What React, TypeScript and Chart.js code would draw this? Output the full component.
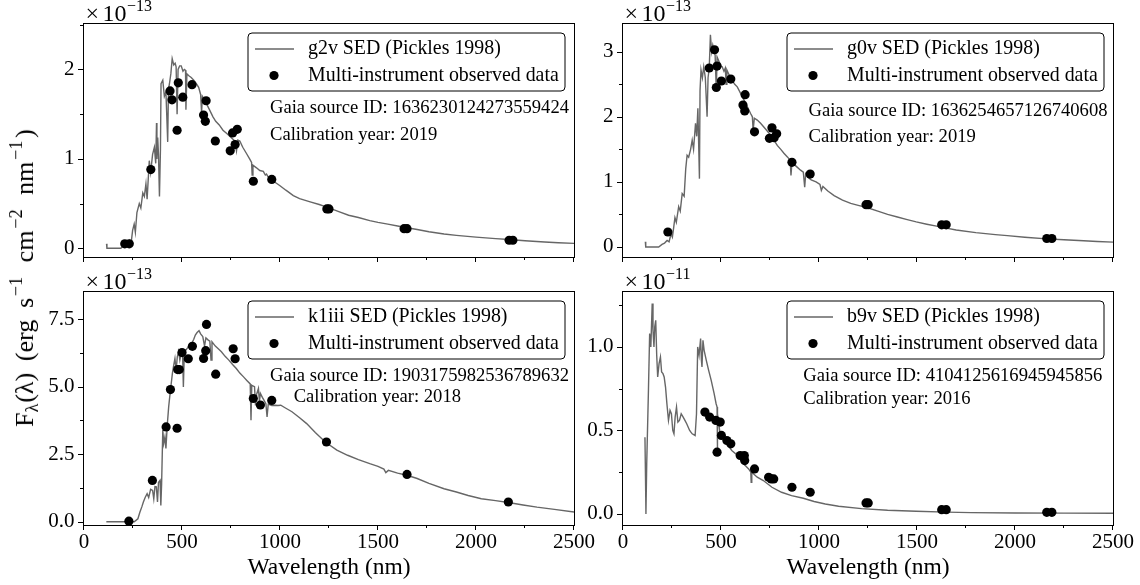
import React, { useEffect, useRef } from "react";
import { Chart, registerables } from "chart.js";

Chart.register(...registerables);

const SERIF = "'Liberation Serif', 'Times New Roman', serif";

// ---------- shared axis data ----------
const xTicks = [0, 500, 1000, 1500, 2000, 2500];
const xMinorTicks = [250, 750, 1250, 1750, 2250];
const xLabel = "Wavelength (nm)";
const legendObsLabel = "Multi-instrument observed data";

// ---------- g2v (top-left), flux in units of 1e-13 ----------
const g2vSed: [number, number][] = [
  [115, 0.05], [117, 0.0], [150, 0.0], [188, 0.0], [197, 0.02], [215, 0.03], [231, 0.09], [240, 0.05],
  [248, 0.2], [256, 0.27], [262, 0.18], [270, 0.4], [282, 0.5], [290, 0.45], [300, 0.62], [308, 0.58],
  [316, 0.72], [322, 0.55], [333, 0.98], [340, 0.85], [350, 1.05], [359, 1.13], [366, 0.95], [370, 1.4],
  [372, 1.0], [376, 1.24], [380, 1.05], [385, 0.58], [390, 1.1], [393, 1.84], [402, 1.88], [410, 1.7],
  [418, 1.75], [427, 1.19], [431, 1.78], [436, 1.84], [443, 1.95], [450, 2.12], [458, 2.05], [465, 2.07],
  [470, 2.03], [475, 1.5], [480, 2.0], [488, 2.04], [496, 2.04], [505, 1.98], [512, 2.0], [518, 1.99],
  [520, 1.55], [525, 1.95], [535, 1.93], [547, 1.91], [560, 1.88], [573, 1.84], [585, 1.8], [595, 1.72],
  [600, 1.52], [604, 1.7], [615, 1.66], [624, 1.62], [640, 1.55], [658, 1.47], [672, 1.42], [690, 1.38],
  [709, 1.32], [730, 1.28], [745, 1.25], [760, 1.22], [770, 1.2], [778, 1.09], [785, 1.21], [795, 1.2],
  [810, 1.13], [829, 1.06], [845, 1.0], [855, 0.96], [858, 0.82], [862, 0.93], [880, 0.9], [897, 0.87],
  [915, 0.86], [925, 0.82], [931, 0.83], [945, 0.78], [960, 0.76], [980, 0.73], [1000, 0.7], [1030, 0.65],
  [1068, 0.59], [1100, 0.555], [1154, 0.52], [1200, 0.49], [1239, 0.46], [1300, 0.41], [1350, 0.37],
  [1400, 0.345], [1458, 0.31], [1500, 0.29], [1550, 0.27], [1600, 0.25], [1633, 0.235], [1700, 0.21],
  [1760, 0.185], [1837, 0.16], [1900, 0.145], [2000, 0.125], [2100, 0.108], [2169, 0.098], [2250, 0.085],
  [2350, 0.07], [2420, 0.062], [2500, 0.055],
];
const g2vObs: [number, number][] = [
  [208, 0.05], [231, 0.05], [341, 0.88], [439, 1.76], [449, 1.66], [475, 1.32], [481, 1.85], [504, 1.69],
  [551, 1.83], [610, 1.49], [619, 1.42], [623, 1.65], [670, 1.2], [746, 1.09], [758, 1.29], [771, 1.16],
  [782, 1.33], [864, 0.75], [958, 0.77], [1239, 0.44], [1250, 0.44], [1633, 0.22], [1648, 0.22],
  [2169, 0.09], [2188, 0.09],
];
const g2vYTicks = [0, 1, 2];
const g2vYTickLabels = ["0", "1", "2"];
const g2vYMinor = [0.5, 1.5, 2.5];

// ---------- g0v (top-right), flux in units of 1e-13 ----------
const g0vSed: [number, number][] = [
  [114, 0.08], [116, 0.0], [150, 0.0], [182, 0.0], [199, 0.04], [212, 0.06], [225, 0.1], [235, 0.08],
  [245, 0.2], [252, 0.15], [259, 0.31], [265, 0.45], [272, 0.38], [284, 0.62], [292, 0.55], [302, 0.82],
  [312, 0.78], [320, 1.2], [327, 1.41], [335, 1.38], [345, 1.5], [353, 1.64], [360, 1.5], [370, 1.9],
  [376, 1.7], [382, 2.13], [390, 1.05], [393, 2.4], [398, 2.72], [405, 2.6], [412, 2.77], [420, 2.6],
  [429, 2.0], [434, 2.6], [440, 2.75], [446, 3.26], [452, 3.0], [458, 3.1], [463, 3.03], [470, 2.95],
  [476, 2.4], [480, 2.92], [490, 2.85], [498, 2.78], [506, 2.77], [515, 2.7], [522, 2.75], [526, 2.5],
  [530, 2.72], [545, 2.62], [557, 2.56], [570, 2.5], [583, 2.46], [600, 2.36], [617, 2.26], [635, 2.15],
  [651, 2.05], [660, 2.0], [664, 1.79], [670, 1.98], [685, 1.95], [702, 1.9], [725, 1.82], [753, 1.72],
  [770, 1.64], [787, 1.56], [805, 1.5], [821, 1.44], [840, 1.38], [853, 1.33], [857, 1.1], [862, 1.3],
  [880, 1.25], [906, 1.18], [920, 1.15], [927, 0.92], [932, 1.12], [940, 1.08], [960, 1.03], [985, 1.0],
  [1005, 0.96], [1012, 0.87], [1020, 0.93], [1045, 0.86], [1077, 0.79], [1120, 0.72], [1162, 0.67],
  [1200, 0.64], [1240, 0.61], [1300, 0.55], [1350, 0.5], [1400, 0.46], [1450, 0.42], [1496, 0.385],
  [1550, 0.35], [1600, 0.32], [1650, 0.29], [1700, 0.26], [1800, 0.22], [1900, 0.19], [1961, 0.175],
  [2050, 0.15], [2162, 0.125], [2250, 0.11], [2350, 0.095], [2420, 0.085], [2500, 0.075],
];
const g0vObs: [number, number][] = [
  [229, 0.23], [440, 2.75], [467, 3.03], [476, 2.45], [480, 2.78], [502, 2.55], [550, 2.58], [612, 2.18],
  [621, 2.09], [623, 2.34], [671, 1.77], [747, 1.67], [760, 1.83], [771, 1.68], [784, 1.74], [862, 1.3],
  [955, 1.12], [1240, 0.65], [1251, 0.65], [1626, 0.34], [1649, 0.34], [2162, 0.13], [2188, 0.13],
];
const g0vYTicks = [0, 1, 2, 3];
const g0vYTickLabels = ["0", "1", "2", "3"];
const g0vYMinor = [0.5, 1.5, 2.5];

// ---------- k1iii (bottom-left), flux in units of 1e-13 ----------
const k1iiiSed: [number, number][] = [
  [114, 0.0], [200, 0.0], [256, 0.0], [265, 0.05], [275, 0.11], [285, 0.35], [295, 0.55], [303, 0.73],
  [312, 0.9], [322, 1.04], [330, 0.9], [340, 1.2], [350, 1.16], [356, 0.85], [362, 1.3], [369, 1.29],
  [375, 0.73], [380, 1.45], [388, 1.53], [392, 0.6], [396, 1.4], [402, 3.39], [407, 2.9], [413, 3.14],
  [418, 2.71], [425, 3.6], [432, 4.25], [440, 4.8], [451, 5.49], [458, 5.8], [464, 6.04], [470, 5.6],
  [476, 6.1], [483, 6.3], [489, 5.98], [495, 6.2], [503, 6.23], [507, 4.99], [512, 6.3], [520, 6.35],
  [530, 6.45], [540, 6.54], [550, 6.6], [560, 6.75], [568, 6.91], [577, 7.0], [587, 7.07], [595, 6.95],
  [606, 6.85], [615, 6.5], [622, 6.8], [634, 6.72], [642, 6.68], [648, 5.98], [653, 6.66], [670, 6.5],
  [685, 6.4], [701, 6.29], [720, 6.12], [739, 5.98], [758, 5.82], [777, 5.67], [795, 5.5], [814, 5.36],
  [832, 5.22], [848, 5.1], [852, 3.76], [856, 5.05], [870, 5.0], [875, 4.3], [880, 4.7], [890, 4.93],
  [895, 4.45], [900, 4.75], [910, 4.6], [918, 4.5], [928, 4.37], [934, 3.88], [940, 4.35], [958, 4.3],
  [975, 4.31], [990, 4.3], [1004, 4.31], [1030, 4.2], [1061, 4.07], [1100, 3.85], [1136, 3.63], [1180, 3.3],
  [1231, 2.95], [1290, 2.65], [1345, 2.46], [1400, 2.3], [1458, 2.15], [1500, 2.05], [1530, 1.95],
  [1540, 1.82], [1553, 1.9], [1600, 1.8], [1648, 1.72], [1700, 1.6], [1760, 1.42], [1837, 1.22],
  [1900, 1.1], [1960, 0.97], [2027, 0.85], [2100, 0.78], [2165, 0.71], [2240, 0.62], [2311, 0.54],
  [2400, 0.46], [2500, 0.36],
];
const k1iiiObs: [number, number][] = [
  [229, 0.02], [349, 1.53], [419, 3.51], [441, 4.89], [475, 3.46], [478, 5.63], [486, 5.63], [500, 6.26],
  [532, 6.03], [553, 6.49], [610, 6.04], [621, 6.33], [625, 7.3], [672, 5.46], [761, 6.4], [771, 6.03],
  [864, 4.56], [900, 4.32], [958, 4.49], [1237, 2.95], [1648, 1.75], [2165, 0.73],
];
const k1iiiYTicks = [0, 2.5, 5, 7.5];
const k1iiiYTickLabels = ["0.0", "2.5", "5.0", "7.5"];
const k1iiiYMinor = [1.25, 3.75, 6.25];

// ---------- b9v (bottom-right), flux in units of 1e-11 ----------
const b9vSed: [number, number][] = [
  [112, 0.46], [115, 0.2], [117, 0.0], [121, 0.3], [125, 0.5], [130, 0.75], [136, 1.08], [142, 1.0],
  [149, 1.26], [153, 1.1], [158, 1.0], [162, 1.12], [167, 1.16], [172, 0.95], [177, 0.82], [184, 0.9],
  [191, 0.94], [197, 0.85], [204, 0.84], [210, 0.82], [217, 0.76], [224, 0.66], [232, 0.56], [240, 0.62],
  [247, 0.6], [254, 0.5], [260, 0.48], [266, 0.58], [273, 0.64], [280, 0.55], [288, 0.56], [297, 0.6],
  [307, 0.58], [316, 0.56], [325, 0.54], [340, 0.5], [353, 0.48], [368, 0.47], [375, 0.6], [381, 1.0],
  [388, 0.95], [396, 1.05], [400, 0.92], [403, 0.88], [408, 1.04], [414, 0.98], [425, 0.92], [437, 0.86],
  [450, 0.8], [465, 0.72], [475, 0.66], [480, 0.64], [481, 0.38], [483, 0.6], [493, 0.5], [510, 0.46],
  [530, 0.42], [555, 0.38], [585, 0.35], [615, 0.3], [641, 0.27], [652, 0.25], [654, 0.19], [657, 0.25],
  [685, 0.22], [716, 0.2], [760, 0.16], [809, 0.13], [860, 0.11], [920, 0.094], [975, 0.075], [1032, 0.06],
  [1100, 0.046], [1217, 0.032], [1350, 0.022], [1496, 0.016], [1650, 0.011], [1775, 0.008], [2000, 0.006],
  [2250, 0.005], [2500, 0.004],
];
const b9vObs: [number, number][] = [
  [418, 0.61], [442, 0.58], [474, 0.56], [480, 0.37], [496, 0.55], [502, 0.47], [530, 0.44], [550, 0.42],
  [598, 0.35], [619, 0.35], [621, 0.32], [671, 0.27], [743, 0.22], [756, 0.21], [769, 0.21], [862, 0.16],
  [955, 0.13], [1240, 0.066], [1251, 0.066], [1626, 0.026], [1649, 0.026], [2162, 0.01], [2188, 0.01],
];
const b9vYTicks = [0, 0.5, 1];
const b9vYTickLabels = ["0.0", "0.5", "1.0"];
const b9vYMinor = [0.25, 0.75, 1.25];

type Panel = {
  key: string;
  model: string;
  gaiaId: string;
  year: string;
  exponent: number;
  sed: [number, number][];
  obs: [number, number][];
  yTicks: number[];
  yTickLabels: string[];
  yMinor: number[];
  yMin: number;
  yMax: number;
  showX: boolean;
  box: { left: number; top: number; width: number; height: number };
  yAxisWidth: number;
  xAxisHeight: number;
  padTop: number;
  idPos: [number, number];
  calPos: [number, number];
};

const panels: Panel[] = [
  {
    key: "g2v", model: "g2v", gaiaId: "1636230124273559424", year: "2019", exponent: -13,
    sed: g2vSed, obs: g2vObs, yTicks: g2vYTicks, yTickLabels: g2vYTickLabels, yMinor: g2vYMinor,
    yMin: -0.097, yMax: 2.508, showX: false,
    box: { left: 0, top: 0, width: 620, height: 292 }, yAxisWidth: 84, xAxisHeight: 35, padTop: 24,
    idPos: [186, 84.3], calPos: [186, 111],
  },
  {
    key: "g0v", model: "g0v", gaiaId: "1636254657126740608", year: "2019", exponent: -13,
    sed: g0vSed, obs: g0vObs, yTicks: g0vYTicks, yTickLabels: g0vYTickLabels, yMinor: g0vYMinor,
    yMin: -0.154, yMax: 3.426, showX: false,
    box: { left: 560, top: 0, width: 620, height: 292 }, yAxisWidth: 63, xAxisHeight: 35, padTop: 24,
    idPos: [185.5, 87], calPos: [185.5, 112.7],
  },
  {
    key: "k1iii", model: "k1iii", gaiaId: "1903175982536789632", year: "2018", exponent: -13,
    sed: k1iiiSed, obs: k1iiiObs, yTicks: k1iiiYTicks, yTickLabels: k1iiiYTickLabels, yMinor: k1iiiYMinor,
    yMin: -0.12, yMax: 8.5, showX: true,
    box: { left: 0, top: 262, width: 620, height: 323 }, yAxisWidth: 84, xAxisHeight: 60, padTop: 30,
    idPos: [186, 83.7], calPos: [209.7, 105.3],
  },
  {
    key: "b9v", model: "b9v", gaiaId: "4104125616945945856", year: "2016", exponent: -11,
    sed: b9vSed, obs: b9vObs, yTicks: b9vYTicks, yTickLabels: b9vYTickLabels, yMinor: b9vYMinor,
    yMin: -0.066, yMax: 1.329, showX: true,
    box: { left: 560, top: 262, width: 620, height: 323 }, yAxisWidth: 63, xAxisHeight: 60, padTop: 30,
    idPos: [180.3, 83.7], calPos: [180.3, 107],
  },
];

const PLOT_WIDTH = 490;

function makeDecor(p: Panel) {
  return {
    id: "decor-" + p.key,
    afterDraw(chart: any) {
      const ctx: CanvasRenderingContext2D = chart.ctx;
      const a = chart.chartArea;
      const xs = chart.scales.x;
      const ys = chart.scales.y;
      const crisp = (v: number) => Math.round(v) + 0.5;
      ctx.save();
      // frame
      ctx.strokeStyle = "#000";
      ctx.lineWidth = 1;
      ctx.strokeRect(crisp(a.left) - 1, crisp(a.top) - 1, Math.round(a.right - a.left) + 1, Math.round(a.bottom - a.top) + 1);
      // ticks
      ctx.beginPath();
      const bottom = Math.round(a.bottom);
      const left = Math.round(a.left) - 1;
      for (const v of xTicks) {
        const px = crisp(xs.getPixelForValue(v)) - 1;
        ctx.moveTo(px, bottom); ctx.lineTo(px, bottom + 5);
      }
      for (const v of xMinorTicks) {
        const px = crisp(xs.getPixelForValue(v)) - 1;
        ctx.moveTo(px, bottom); ctx.lineTo(px, bottom + 3);
      }
      for (const v of p.yTicks) {
        const py = crisp(ys.getPixelForValue(v));
        ctx.moveTo(left, py); ctx.lineTo(left - 5, py);
      }
      for (const v of p.yMinor) {
        if (v > p.yMax || v < p.yMin) continue;
        const py = crisp(ys.getPixelForValue(v));
        ctx.moveTo(left, py); ctx.lineTo(left - 3, py);
      }
      ctx.stroke();

      // offset text (×10^exp)
      ctx.fillStyle = "#000";
      ctx.textAlign = "left";
      ctx.textBaseline = "alphabetic";
      ctx.font = `24px ${SERIF}`;
      const ox = a.left + 1.5;
      const oy = a.top - 3.5;
      ctx.fillText("×", ox, oy);
      ctx.fillText("10", ox + 17, oy);
      const w = ctx.measureText("10").width;
      ctx.font = `16px ${SERIF}`;
      ctx.fillText("−" + String(-p.exponent), ox + 17 + w + 0.5, oy - 9.5);

      // legend
      const lw = 317, lh = 58;
      const lx = a.right - 9 - lw;
      const ly = a.top + 9;
      ctx.beginPath();
      const r = 4;
      ctx.moveTo(lx + r, ly);
      ctx.lineTo(lx + lw - r, ly);
      ctx.arcTo(lx + lw, ly, lx + lw, ly + r, r);
      ctx.lineTo(lx + lw, ly + lh - r);
      ctx.arcTo(lx + lw, ly + lh, lx + lw - r, ly + lh, r);
      ctx.lineTo(lx + r, ly + lh);
      ctx.arcTo(lx, ly + lh, lx, ly + lh - r, r);
      ctx.lineTo(lx, ly + r);
      ctx.arcTo(lx, ly, lx + r, ly, r);
      ctx.closePath();
      ctx.fillStyle = "#fff";
      ctx.fill();
      ctx.strokeStyle = "#000";
      ctx.lineWidth = 1;
      ctx.stroke();
      const row1 = ly + 16, row2 = ly + 42.5;
      ctx.beginPath();
      ctx.strokeStyle = "#666";
      ctx.lineWidth = 1.5;
      ctx.moveTo(lx + 7, row1);
      ctx.lineTo(lx + 46, row1);
      ctx.stroke();
      ctx.beginPath();
      ctx.fillStyle = "#000";
      ctx.arc(lx + 26, row2, 4.6, 0, Math.PI * 2);
      ctx.fill();
      ctx.font = `19.9px ${SERIF}`;
      ctx.textBaseline = "middle";
      ctx.fillText(`${p.model} SED (Pickles 1998)`, lx + 60, row1);
      ctx.fillText(legendObsLabel, lx + 60, row2);

      // annotations
      ctx.font = `18.6px ${SERIF}`;
      ctx.fillText(`Gaia source ID: ${p.gaiaId}`, a.left + p.idPos[0], a.top + p.idPos[1]);
      ctx.fillText(`Calibration year: ${p.year}`, a.left + p.calPos[0], a.top + p.calPos[1]);
      ctx.restore();
    },
  };
}

function PanelChart({ p }: { p: Panel }) {
  const ref = useRef<HTMLCanvasElement | null>(null);
  useEffect(() => {
    if (!ref.current) return;
    const padRight = p.box.width - p.yAxisWidth - PLOT_WIDTH;
    const chart = new Chart(ref.current, {
      type: "scatter",
      data: {
        datasets: [
          {
            label: legendObsLabel,
            data: p.obs.map(([x, y]) => ({ x, y })),
            showLine: false,
            pointRadius: 4.6,
            pointBackgroundColor: "#000",
            pointBorderWidth: 0,
            pointBorderColor: "#000",
          },
          {
            label: `${p.model} SED (Pickles 1998)`,
            data: p.sed.map(([x, y]) => ({ x, y })),
            showLine: true,
            borderColor: "#666",
            borderWidth: 1.4,
            pointRadius: 0,
            tension: 0,
            fill: false,
          },
        ],
      },
      options: {
        animation: false,
        responsive: true,
        maintainAspectRatio: false,
        events: [],
        layout: { padding: { left: 0, top: p.padTop, right: padRight, bottom: 0 } },
        plugins: { legend: { display: false }, tooltip: { enabled: false } },
        scales: {
          x: {
            type: "linear",
            min: 0,
            max: 2500,
            afterBuildTicks: (s: any) => {
              s.ticks = xTicks.map((v) => ({ value: v }));
            },
            afterFit: (s: any) => {
              s.height = p.xAxisHeight;
            },
            grid: { display: false, drawTicks: false },
            border: { display: false },
            ticks: {
              display: p.showX,
              padding: 5,
              color: "#000",
              maxRotation: 0,
              autoSkip: false,
              font: { family: SERIF, size: 21 },
              callback: (v: any) => String(v),
            },
            title: {
              display: p.showX,
              text: xLabel,
              color: "#000",
              font: { family: SERIF, size: 23.5 },
              padding: { top: 0, bottom: 3 },
            },
          },
          y: {
            type: "linear",
            min: p.yMin,
            max: p.yMax,
            afterBuildTicks: (s: any) => {
              s.ticks = p.yTicks.map((v) => ({ value: v }));
            },
            afterFit: (s: any) => {
              s.width = p.yAxisWidth;
            },
            grid: { display: false, drawTicks: false },
            border: { display: false },
            ticks: {
              padding: 9.5,
              color: "#000",
              autoSkip: false,
              font: { family: SERIF, size: 21 },
              callback: (v: any) => {
                const i = p.yTicks.findIndex((t) => Math.abs(t - Number(v)) < 1e-9);
                return i >= 0 ? p.yTickLabels[i] : "";
              },
            },
          },
        },
      },
      plugins: [makeDecor(p)],
    } as any);
    return () => chart.destroy();
  }, [p]);
  return (
    <div
      style={{
        position: "absolute",
        left: p.box.left,
        top: p.box.top,
        width: p.box.width,
        height: p.box.height,
      }}
    >
      <canvas ref={ref} />
    </div>
  );
}

const supStyle: React.CSSProperties = {
  fontSize: "0.7em",
  verticalAlign: "0.6em",
  lineHeight: 0,
  marginLeft: "0.1em",
  marginRight: "0.15em",
};
const subStyle: React.CSSProperties = {
  fontSize: "0.7em",
  verticalAlign: "-0.3em",
  lineHeight: 0,
  marginRight: "0.05em",
};

export default function App() {
  return (
    <div
      style={{
        position: "fixed",
        left: 0,
        top: 0,
        width: 1140,
        height: 585,
        overflow: "hidden",
        background: "#fff",
      }}
    >
      {panels.map((p) => (
        <PanelChart key={p.key} p={p} />
      ))}
      <div
        style={{
          position: "absolute",
          left: 25,
          top: 278,
          transform: "translate(-50%, -50%) rotate(-90deg)",
          whiteSpace: "nowrap",
          fontFamily: SERIF,
          fontSize: 26,
          lineHeight: 1,
          color: "#000",
          wordSpacing: "0.2em",
        }}
      >
        F<span style={subStyle}>λ</span>(λ) (erg s<span style={supStyle}>−1</span> cm
        <span style={supStyle}>−2</span> nm<span style={supStyle}>−1</span>)
      </div>
    </div>
  );
}
